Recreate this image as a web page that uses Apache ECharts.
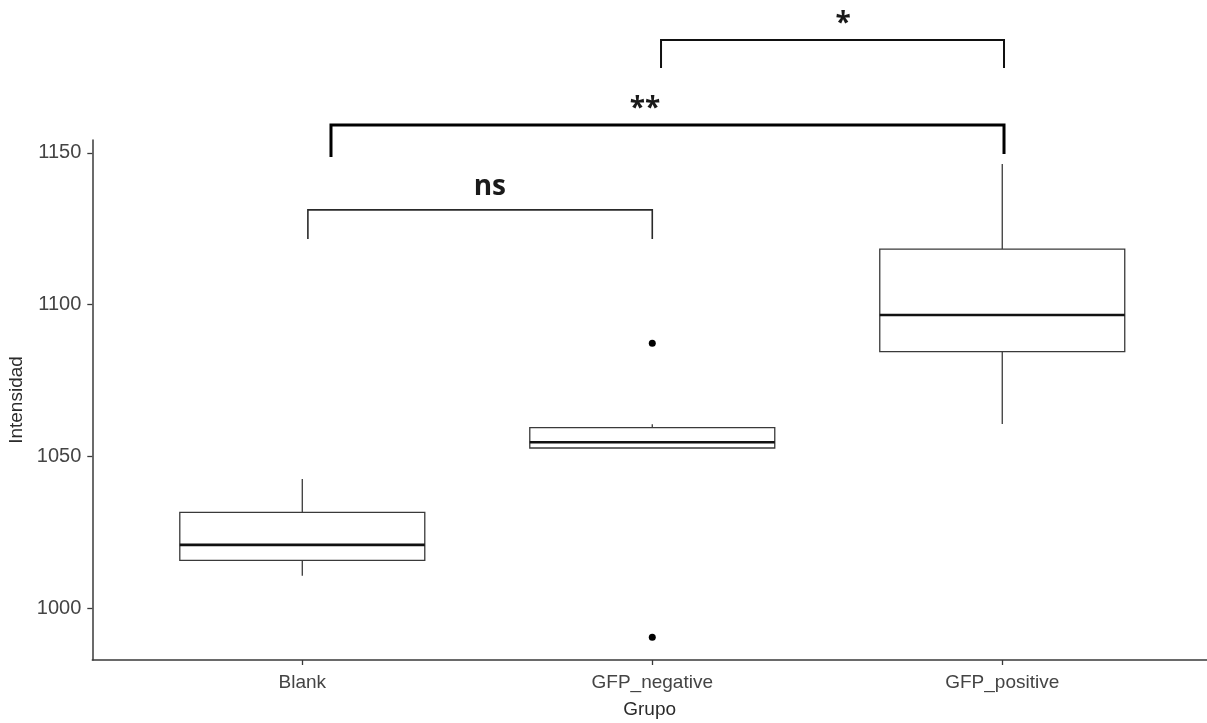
<!DOCTYPE html>
<html>
<head>
<meta charset="utf-8">
<script src="https://cdn.jsdelivr.net/npm/echarts@6/dist/echarts.min.js"></script>
<style>
html,body{margin:0;padding:0;background:#fff;}
#chart{width:1207px;height:723px;}
</style>
</head>
<body>
<div id="chart"></div>
<script>
// ---- data ----
const categories = ['Blank', 'GFP_negative', 'GFP_positive'];
// [low whisker, Q1, median, Q3, high whisker]
const boxValues = [
  [1010.7, 1015.8, 1020.9, 1031.6, 1042.6],
  [1052.8, 1052.8, 1054.7, 1059.5, 1060.6],
  [1060.7, 1084.5, 1096.6, 1118.3, 1146.3]
];
// outliers: [category position, value]
const outliers = [[2, 1087.3], [2, 990.5]];
const yTicks = [1000, 1050, 1100, 1150];
// significance brackets: [x from, x to, bar y, left leg end y, right leg end y]
const bracketNs = [[1.016, 2.0, 1131.2, 1121.6, 1121.6]];
const bracketTwoStar = [[1.082, 3.005, 1159.1, 1148.6, 1149.6]];
const bracketOneStar = [[2.025, 3.005, 1187.1, 1177.9, 1177.9]];
// significance labels: [x, y, text]
const sigLabels = [[1.536, 1138.7, 'ns'], [1.979, 1164.5, '**'], [2.545, 1192.5, '*']];

const chart = echarts.init(document.getElementById('chart'), null, {renderer: 'canvas'});

const boxData = boxValues.map((v, i) => [i + 1].concat(v));
const halfW = 0.35;

function renderBox(params, api) {
  const x = api.value(0);
  const lo = api.value(1), q1 = api.value(2), med = api.value(3), q3 = api.value(4), hi = api.value(5);
  const pTL = api.coord([x - halfW, q3]);
  const pBR = api.coord([x + halfW, q1]);
  const pMedL = api.coord([x - halfW, med]);
  const pMedR = api.coord([x + halfW, med]);
  const pHi = api.coord([x, hi]);
  const pQ3 = api.coord([x, q3]);
  const pQ1 = api.coord([x, q1]);
  const pLo = api.coord([x, lo]);
  const lineStyle = {stroke: '#3a3a3a', lineWidth: 1.3, fill: null};
  return {
    type: 'group',
    children: [
      {type: 'line', shape: {x1: pHi[0], y1: pHi[1], x2: pQ3[0], y2: pQ3[1]}, style: lineStyle},
      {type: 'line', shape: {x1: pQ1[0], y1: pQ1[1], x2: pLo[0], y2: pLo[1]}, style: lineStyle},
      {type: 'rect', shape: {x: pTL[0], y: pTL[1], width: pBR[0] - pTL[0], height: pBR[1] - pTL[1]},
        style: {stroke: '#3a3a3a', lineWidth: 1.3, fill: '#ffffff'}},
      {type: 'line', shape: {x1: pMedL[0], y1: pMedL[1], x2: pMedR[0], y2: pMedR[1]},
        style: {stroke: '#111111', lineWidth: 2.6}}
    ]
  };
}

function bracketRenderer(width, color) {
  return function (params, api) {
    const x1 = api.value(0), x2 = api.value(1), yb = api.value(2), yl = api.value(3), yr = api.value(4);
    const a = api.coord([x1, yl]);
    const b = api.coord([x1, yb]);
    const c = api.coord([x2, yb]);
    const d = api.coord([x2, yr]);
    return {
      type: 'polyline',
      shape: {points: [a, b, c, d]},
      style: {stroke: color, lineWidth: width, fill: null, lineJoin: 'miter'}
    };
  };
}

function renderLabel(params, api) {
  const p = api.coord([api.value(0), api.value(1)]);
  const t = sigLabels[params.dataIndex][2];
  return {
    type: 'text',
    x: p[0], y: p[1],
    style: {
      text: t,
      fontFamily: 'Open Sans',
      fontWeight: 'bold',
      fontSize: 28,
      fill: '#1a1a1a',
      align: 'center',
      verticalAlign: 'middle'
    }
  };
}

const option = {
  animation: false,
  backgroundColor: '#ffffff',
  grid: {left: 92.3, right: 0, top: 140, bottom: 63, outerBoundsMode: 'none', containLabel: false},
  xAxis: {
    type: 'value',
    min: 0.4,
    max: 3.585,
    name: 'Grupo',
    nameLocation: 'middle',
    nameGap: 40,
    nameTextStyle: {fontFamily: 'Liberation Sans', fontSize: 19, color: '#2b2b2b'},
    splitLine: {show: false},
    axisLine: {show: true, onZero: false, lineStyle: {color: '#3a3a3a', width: 1.5}},
    axisTick: {show: true, length: 5, customValues: [1, 2, 3], lineStyle: {color: '#3a3a3a', width: 1.3}},
    axisLabel: {
      customValues: [1, 2, 3],
      formatter: v => categories[Math.round(v) - 1] || '',
      fontFamily: 'Liberation Sans',
      fontSize: 19,
      color: '#444444',
      margin: 13
    }
  },
  yAxis: {
    type: 'value',
    min: 983.0,
    max: 1154.2,
    name: 'Intensidad',
    nameLocation: 'middle',
    nameGap: 53,
    nameRotate: 90,
    nameTextStyle: {fontFamily: 'Liberation Sans', fontSize: 19, color: '#2b2b2b'},
    splitLine: {show: false},
    axisLine: {show: true, onZero: false, lineStyle: {color: '#3a3a3a', width: 1.5}},
    axisTick: {show: true, length: 5, customValues: yTicks, lineStyle: {color: '#3a3a3a', width: 1.3}},
    axisLabel: {
      customValues: yTicks,
      formatter: v => String(Math.round(v)),
      fontFamily: 'Liberation Sans',
      fontSize: 20,
      color: '#444444',
      margin: 11
    }
  },
  series: [
    {type: 'custom', name: 'box', renderItem: renderBox, data: boxData, clip: false, z: 2},
    {type: 'scatter', name: 'outliers', data: outliers, symbol: 'circle', symbolSize: 7,
      itemStyle: {color: '#000000', opacity: 1}, z: 3},
    {type: 'custom', name: 'ns', renderItem: bracketRenderer(1.6, '#2a2a2a'), data: bracketNs, clip: false},
    {type: 'custom', name: 'two', renderItem: bracketRenderer(3, '#000000'), data: bracketTwoStar, clip: false},
    {type: 'custom', name: 'one', renderItem: bracketRenderer(2, '#111111'), data: bracketOneStar, clip: false},
    {type: 'custom', name: 'labels', renderItem: renderLabel, data: sigLabels.map(d => [d[0], d[1]]), clip: false}
  ]
};
chart.setOption(option);
</script>
</body>
</html>
